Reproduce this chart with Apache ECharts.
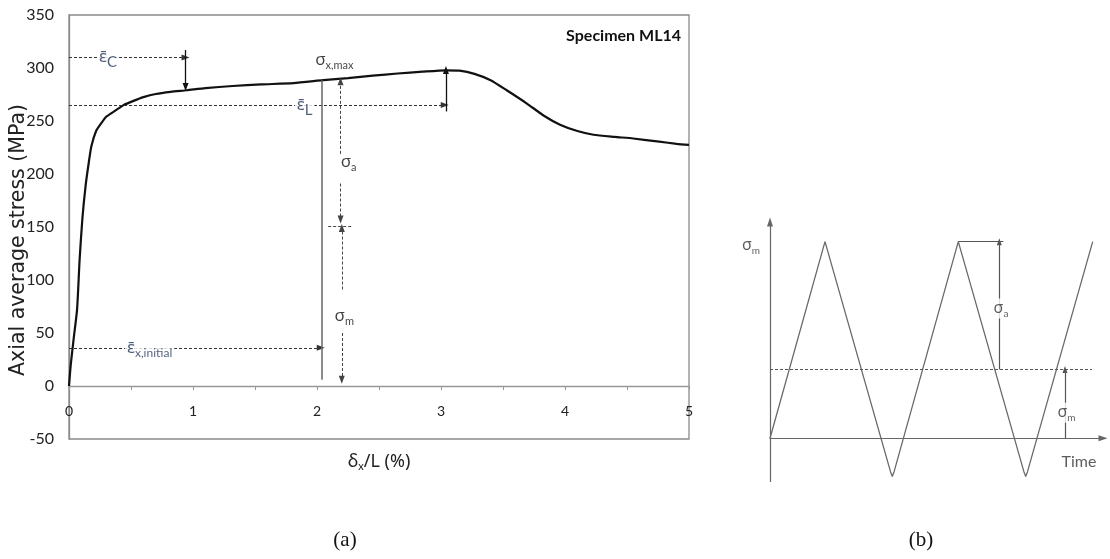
<!DOCTYPE html>
<html>
<head>
<meta charset="utf-8">
<script src="https://cdn.jsdelivr.net/npm/echarts@6/dist/echarts.min.js"></script>
<style>
  html, body { margin: 0; padding: 0; background: #fff; }
  #chart { width: 1110px; height: 559px; }
</style>
</head>
<body>
<div id="chart"></div>
<script>
// ---- Panel (a): axial stress vs. normalised displacement, specimen ML14 ----
const strainPct = [0, 0.014, 0.038, 0.065, 0.086, 0.108, 0.135, 0.161, 0.18, 0.22, 0.26, 0.30, 0.37, 0.44,
  0.52, 0.60, 0.70, 0.82, 0.95, 1.1, 1.32, 1.55, 1.81, 2.05, 2.25, 2.45, 2.65, 2.85, 3.04, 3.15,
  3.27, 3.4, 3.53, 3.69, 3.83, 3.96, 4.1, 4.23, 4.4, 4.55, 4.76, 4.9, 5.0];
const stressMPa = [0, 20, 45, 72, 120, 158, 190, 212, 226, 241, 248, 254, 259.5, 265,
  269, 272.5, 275.5, 277.5, 279, 281, 283, 284.5, 285.8, 288.5, 290.5, 292.8, 294.8, 296.5, 297.8, 297.5,
  294.5, 288.5, 279, 266.7, 255, 246.5, 240.5, 237, 235, 233.5, 230.5, 228.5, 227.5];
const stressTicks = [-50, 0, 50, 100, 150, 200, 250, 300, 350];
const strainTicks = [0, 1, 2, 3, 4, 5];

// characteristic levels marked on the curve
const epsC = { strain: 0.94, stress: 310, onCurve: 282 };
const epsL = { strain: 3.04, stress: 265, peak: 298 };
const epsInitial = { strain: 2.03, stress: 36 };
const loadPoint = { strain: 2.04, top: 288.5, bottom: 6 };
const sigmaMarks = { strain: 2.19, top: 287.5, mean: 151, bottom: 6 };

// ---- Panel (b): cyclic loading schematic ----
const cycleTime = [0, 5.5, 12.05, 12.23, 12.41, 18.83, 25.39, 25.57, 25.75, 32.27];
const cycleStress = [0, 100, -17, -19.5, -17, 100, -17, -19.5, -17, 100];
const meanStress = 35;
const peakStress = 100;

const GREEK = '"Noto Sans", "DejaVu Sans", sans-serif';
const SANS = 'Lato, "Open Sans", "Noto Sans", sans-serif';
const NAVY = '#1f3556';

function seg(from, to, o) {
  o = o || {};
  return [
    {
      coord: from,
      symbol: o.start ? 'triangle' : 'none',
      symbolSize: o.size || [6, 8],
      lineStyle: {
        type: o.dashed ? [3, 2] : 'solid',
        color: o.color || '#222',
        width: o.width || 1
      }
    },
    { coord: to, symbol: o.end ? 'triangle' : 'none', symbolSize: o.size || [6, 8] }
  ];
}

function tag(x, y, text, bg) {
  return {
    value: [x, y],
    label: { formatter: text, backgroundColor: bg ? '#fff' : 'transparent', padding: bg ? [0, 2] : 0 }
  };
}

const richA = {
  e: { fontFamily: GREEK, fontSize: 17, color: NAVY },
  eb: { fontFamily: SANS, fontSize: 15, color: NAVY, padding: [10, 0, 0, 0] },
  es: { fontFamily: SANS, fontSize: 12, color: NAVY, padding: [11, 0, 0, 0] },
  g: { fontFamily: GREEK, fontSize: 17, color: '#111' },
  gs: { fontFamily: SANS, fontSize: 11, color: '#111', padding: [10, 0, 0, 0] }
};
const richB = {
  g: { fontFamily: GREEK, fontSize: 16, color: '#333' },
  gs: { fontFamily: SANS, fontSize: 10, color: '#333', padding: [10, 0, 0, 0] },
  t: { fontFamily: SANS, fontSize: 16, color: '#333' }
};

const chart = echarts.init(document.getElementById('chart'), null, { renderer: 'canvas' });

chart.setOption({
  animation: false,
  backgroundColor: '#fff',
  title: {
    text: 'Specimen ML14',
    right: 424,
    top: 23,
    textStyle: { fontFamily: SANS, fontSize: 16, fontWeight: 'bold', color: '#111' }
  },
  grid: [
    { left: 69, top: 15, width: 620, height: 424, show: true, borderColor: '#8a8a8a', borderWidth: 1.3,
      outerBoundsMode: 'none' },
    { left: 770, top: 222, width: 333, height: 259.5, outerBoundsMode: 'none' }
  ],
  xAxis: [
    {
      gridIndex: 0, type: 'value',
      min: strainTicks[0], max: strainTicks[strainTicks.length - 1], interval: 0.5,
      name: '{d|δ}{s|x}{d|/L (%)}',
      nameLocation: 'middle', nameGap: 12, nameMoveOverlap: false,
      nameTextStyle: {
        rich: {
          d: { fontFamily: GREEK, fontSize: 18, color: '#222' },
          s: { fontFamily: SANS, fontSize: 11, color: '#222', padding: [10, 0, 0, 0] }
        }
      },
      axisLine: { onZero: true, lineStyle: { color: '#999', width: 1.4 } },
      axisTick: { show: true, length: 4, lineStyle: { color: '#999' } },
      axisLabel: {
        margin: -35, fontFamily: SANS, fontSize: 14, color: '#222',
        formatter: v => (strainTicks.indexOf(v) >= 0 ? String(v) : '')
      },
      splitLine: { show: false }
    },
    {
      gridIndex: 1, type: 'value', min: 0, max: 33.3,
      axisLine: { onZero: true, symbol: ['none', 'triangle'], symbolSize: [6, 9], lineStyle: { color: '#666', width: 1.2 } },
      axisTick: { show: false }, axisLabel: { show: false }, splitLine: { show: false }
    }
  ],
  yAxis: [
    {
      gridIndex: 0, type: 'value',
      min: stressTicks[0], max: stressTicks[stressTicks.length - 1], interval: 50,
      name: 'Axial average stress (MPa)',
      nameLocation: 'middle', nameGap: 40, nameRotate: 90, nameMoveOverlap: false,
      nameTextStyle: { fontFamily: '"DejaVu Sans", sans-serif', fontSize: 20.5, color: '#222', padding: [0, 26, 0, 0] },
      axisLine: { show: true, lineStyle: { color: '#8a8a8a', width: 1.3 } },
      axisTick: { show: false },
      axisLabel: { margin: 15, fontFamily: SANS, fontSize: 16, color: '#222' },
      splitLine: { show: false }
    },
    {
      gridIndex: 1, type: 'value', min: -22, max: 110,
      axisLine: { show: true, onZero: false, symbol: ['none', 'triangle'], symbolSize: [6, 9], lineStyle: { color: '#666', width: 1.2 } },
      axisTick: { show: false }, axisLabel: { show: false }, splitLine: { show: false }
    }
  ],
  series: [
    {
      name: 'ML14',
      type: 'line',
      xAxisIndex: 0, yAxisIndex: 0,
      data: strainPct.map((x, i) => [x, stressMPa[i]]),
      showSymbol: false,
      smooth: 0.2,
      lineStyle: { color: '#111', width: 2.2 },
      z: 3,
      markLine: {
        silent: true, animation: false, label: { show: false },
        data: [
          seg([0, epsC.stress], [epsC.strain, epsC.stress], { dashed: true, end: true, color: '#333' }),
          seg([epsC.strain, 317], [epsC.strain, epsC.onCurve], { end: true, color: '#111', width: 1.3 }),
          seg([0, epsL.stress], [epsL.strain - 0.01, epsL.stress], { dashed: true, end: true, color: '#333' }),
          seg([epsL.strain, 259], [epsL.strain, epsL.peak], { end: true, color: '#111', width: 1.3 }),
          seg([0, epsInitial.stress], [epsInitial.strain, epsInitial.stress], { dashed: true, end: true, color: '#333' }),
          seg([loadPoint.strain, loadPoint.top], [loadPoint.strain, loadPoint.bottom], { color: '#666', width: 1.5 }),
          seg([sigmaMarks.strain, 219], [sigmaMarks.strain, sigmaMarks.top], { dashed: true, end: true, color: '#444' }),
          seg([sigmaMarks.strain, 191], [sigmaMarks.strain, sigmaMarks.mean + 6], { dashed: true, end: true, color: '#444' }),
          seg([2.09, sigmaMarks.mean], [2.28, sigmaMarks.mean], { dashed: true, color: '#444' }),
          seg([sigmaMarks.strain + 0.01, 91], [sigmaMarks.strain + 0.01, sigmaMarks.mean - 2], { dashed: true, end: true, color: '#444' }),
          seg([sigmaMarks.strain + 0.01, 50], [sigmaMarks.strain + 0.01, sigmaMarks.bottom], { dashed: true, end: true, color: '#444' })
        ]
      }
    },
    {
      name: 'labels-a',
      type: 'scatter',
      xAxisIndex: 0, yAxisIndex: 0,
      symbolSize: 0,
      clip: false,
      z: 10,
      label: { show: true, position: 'inside', rich: richA },
      data: [
        tag(0.315, epsC.stress, '{e|ε̄}{eb|C}', true),
        tag(1.9, epsL.stress, '{e|ε̄}{eb|L}', true),
        tag(0.65, epsInitial.stress, '{e|ε̄}{es|x,initial}', true),
        tag(2.14, 307, '{g|σ}{gs|x,max}', false),
        tag(2.255, 211, '{g|σ}{gs|a}', false),
        tag(2.22, 66, '{g|σ}{gs|m}', false)
      ]
    },
    {
      name: 'cycle',
      type: 'line',
      xAxisIndex: 1, yAxisIndex: 1,
      data: cycleTime.map((t, i) => [t, cycleStress[i]]),
      showSymbol: false,
      lineStyle: { color: '#6a6a6a', width: 1.3 },
      z: 3,
      markLine: {
        silent: true, animation: false, label: { show: false },
        data: [
          seg([0, meanStress], [32.2, meanStress], { dashed: true, color: '#555' }),
          seg([18.83, peakStress], [23.33, peakStress], { color: '#555', width: 1.2 }),
          seg([22.93, meanStress], [22.93, peakStress], { end: true, color: '#555', width: 1.2, size: [5, 7] }),
          seg([29.5, 0], [29.5, meanStress], { end: true, color: '#555', width: 1.2, size: [5, 7] })
        ]
      }
    },
    {
      name: 'labels-b',
      type: 'scatter',
      xAxisIndex: 1, yAxisIndex: 1,
      symbolSize: 0,
      clip: false,
      z: 10,
      label: { show: true, position: 'inside', rich: richB },
      data: [
        tag(-1.9, 98, '{g|σ}{gs|m}', false),
        tag(23.1, 66, '{g|σ}{gs|a}', true),
        tag(29.65, 13, '{g|σ}{gs|m}', true),
        tag(30.9, -12, '{t|Time}', false)
      ]
    }
  ],
  graphic: [
    { type: 'text', x: 345, y: 540, style: { text: '(a)', font: '21px "Liberation Serif", serif', fill: '#111', textAlign: 'center', textVerticalAlign: 'middle' } },
    { type: 'text', x: 921, y: 540, style: { text: '(b)', font: '21px "Liberation Serif", serif', fill: '#111', textAlign: 'center', textVerticalAlign: 'middle' } }
  ]
});
</script>
</body>
</html>
